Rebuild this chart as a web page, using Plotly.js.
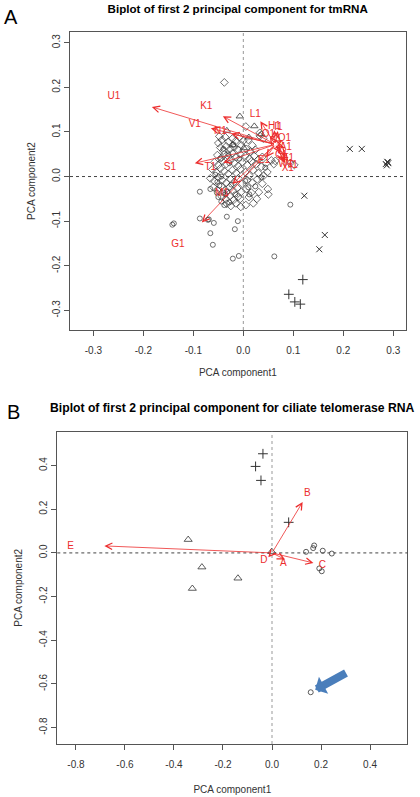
<!DOCTYPE html>
<html>
<head>
<meta charset="utf-8">
<script src="https://cdn.plot.ly/plotly-3.0.1.min.js"></script>
<style>html,body{margin:0;padding:0;background:#fff;}#chart{width:420px;height:797px;}</style>
</head>
<body>
<div id="chart"></div>
<script>
// ---------------- Panel A: tmRNA ----------------
const titleA = 'Biplot of first 2 principal component for tmRNA';
const circlesAX = [-0.087,-0.066,-0.053,-0.142,-0.139,-0.087,-0.071,-0.069,-0.059,-0.033,-0.011,-0.017,-0.066,-0.061,-0.009,-0.021,0.062,0.094,
  -0.052,-0.048,-0.056,-0.044,-0.040,-0.036,-0.032,-0.046,-0.040,-0.030,-0.024,-0.016,0.004,0.010,0.036,0.044,0.024,-0.008,-0.020,-0.028,-0.050,-0.044,-0.038,-0.028,0.012];
const circlesAY = [-0.034,-0.028,-0.036,-0.108,-0.105,-0.094,-0.097,-0.096,-0.104,-0.090,-0.100,-0.118,-0.127,-0.153,-0.178,-0.184,-0.179,-0.063,
  -0.012,-0.020,0.004,0.000,-0.036,-0.040,-0.034,0.040,0.062,0.050,-0.018,-0.040,-0.010,-0.024,-0.002,0.020,-0.022,0.040,0.072,0.030,-0.046,-0.056,-0.064,-0.058,-0.040];
const diamondsAX = [-0.038,0.005,0.033,0.033,0.040,
  -0.048,-0.043,-0.050,-0.036,-0.030,-0.022,-0.015,-0.008,0.000,0.010,0.018,
  -0.046,-0.040,-0.034,-0.026,-0.018,-0.010,-0.004,0.006,0.014,0.024,
  -0.052,-0.044,-0.038,-0.030,-0.022,-0.014,-0.006,0.004,0.012,0.022,0.030,0.038,
  -0.058,-0.050,-0.042,-0.034,-0.026,-0.018,-0.010,-0.002,0.008,0.016,0.026,0.036,0.046,0.056,0.064,0.061,0.102,0.094,
  -0.062,-0.054,-0.046,-0.038,-0.030,-0.022,-0.014,-0.006,0.004,0.012,0.020,0.030,0.041,0.048,
  -0.066,-0.058,-0.050,-0.042,-0.034,-0.026,-0.018,-0.010,-0.002,0.008,0.018,0.028,0.038,
  -0.060,-0.052,-0.044,-0.036,-0.028,-0.020,-0.012,-0.004,0.006,0.016,0.031,0.049,
  -0.043,-0.035,-0.027,-0.019,-0.011,-0.006,0.011,0.027,0.050,
  -0.033,-0.025,-0.015,-0.005,0.005,0.020];
const diamondsAY = [0.211,0.112,0.091,0.098,0.085,
  0.090,0.082,0.075,0.088,0.078,0.085,0.080,0.088,0.080,0.082,0.070,
  0.065,0.058,0.068,0.062,0.066,0.060,0.070,0.062,0.056,0.060,
  0.048,0.042,0.050,0.045,0.052,0.044,0.050,0.046,0.040,0.046,0.038,0.044,
  0.032,0.026,0.034,0.028,0.036,0.030,0.024,0.032,0.026,0.034,0.028,0.022,0.030,0.036,0.035,0.028,0.026,0.030,
  0.016,0.010,0.018,0.012,0.006,0.014,0.008,0.016,0.010,0.002,0.014,0.008,0.002,0.010,
  -0.004,-0.010,-0.002,-0.008,-0.014,-0.006,-0.012,-0.004,-0.016,-0.008,-0.014,-0.006,-0.016,
  -0.024,-0.030,-0.022,-0.030,-0.024,-0.032,-0.026,-0.034,-0.028,-0.036,-0.035,-0.028,
  -0.045,-0.050,-0.044,-0.052,-0.046,-0.050,-0.046,-0.050,-0.040,
  -0.061,-0.066,-0.060,-0.068,-0.064,-0.060];
const trianglesAX = [-0.007,0.022,-0.033,0.036,0.011,0.001,-0.021];
const trianglesAY = [0.135,0.113,0.103,0.095,0.088,0.064,0.070];
const crossesXAX = [0.213,0.237,0.285,0.288,0.290,0.287,0.289,0.122,0.163,0.152];
const crossesXAY = [0.062,0.062,0.028,0.033,0.030,0.025,0.032,-0.043,-0.131,-0.163];
const plusAX = [0.119,0.091,0.103,0.114];
const plusAY = [-0.231,-0.264,-0.281,-0.286];
const arrowOriginA = [0.064,0.072];
const varNamesA = ['U1','K1','V1','N1','L1','S1','G1','T1','M1','H1','I1','O1','Q1','A1','C1','F1','W1','X1','Y1','E1'];
const arrowTipAX = [-0.183,-0.041,-0.065,-0.024,0.034,-0.097,-0.083,-0.040,-0.022,0.062,0.069,0.053,0.078,0.081,0.074,0.085,0.081,0.084,0.090,0.046];
const arrowTipAY = [0.156,0.135,0.108,0.096,0.124,0.030,-0.103,0.031,-0.017,0.104,0.102,0.090,0.082,0.066,0.053,0.046,0.035,0.030,0.034,0.043];
const labelAX = [-0.259,-0.074,-0.097,-0.046,0.024,-0.147,-0.131,-0.066,-0.043,0.062,0.070,0.050,0.082,0.085,0.076,0.090,0.085,0.089,0.097,0.041];
const labelAY = [0.180,0.156,0.117,0.102,0.139,0.020,-0.153,0.021,-0.039,0.112,0.110,0.095,0.085,0.065,0.048,0.040,0.026,0.019,0.024,0.036];
const tickValsA = [-0.3,-0.2,-0.1,0,0.1,0.2,0.3];
const tickTextA = ['-0.3','-0.2','-0.1','0.0','0.1','0.2','0.3'];

// ---------------- Panel B: ciliate telomerase RNA ----------------
const titleB = 'Biplot of first 2 principal component for ciliate telomerase RNA';
const plusBX = [-0.037,-0.067,-0.045,0.068];
const plusBY = [0.454,0.396,0.332,0.140];
const trianglesBX = [-0.342,-0.286,-0.139,-0.325,-0.001];
const trianglesBY = [0.061,-0.065,-0.116,-0.163,0.006];
const circlesBX = [0.139,0.168,0.172,0.207,0.244,0.193,0.203,0.158];
const circlesBY = [0.005,0.022,0.034,0.010,-0.003,-0.071,-0.084,-0.638];
const arrowOriginB = [0,0];
const varNamesB = ['E','B','C','A','D'];
const arrowTipBX = [-0.684,0.125,0.169,0.053,-0.015];
const arrowTipBY = [0.032,0.233,-0.046,-0.030,-0.020];
const labelBX = [-0.822,0.144,0.205,0.046,-0.033];
const labelBY = [0.030,0.274,-0.059,-0.048,-0.033];
const highlightPointB = [0.158,-0.638];
const tickValsB = [-0.8,-0.6,-0.4,-0.2,0,0.2,0.4];
const tickTextB = ['-0.8','-0.6','-0.4','-0.2','0.0','0.2','0.4'];

const FONT = 'Liberation Sans, Arial, sans-serif';
const RED = 'rgb(236,45,45)';
const INK = '#333';

function pts(x, y, xa, ya, symbol, size, lw) {
  return {type:'scatter', mode:'markers', x:x, y:y, xaxis:xa, yaxis:ya, hoverinfo:'skip',
    marker:{symbol:symbol, size:size, color:INK, line:{width:lw, color:INK}}};
}
function labels(x, y, t, xa, ya) {
  return {type:'scatter', mode:'text', x:x, y:y, text:t, xaxis:xa, yaxis:ya, hoverinfo:'skip',
    textposition:'middle center', textfont:{family:FONT, size:10, color:RED}};
}

const data = [
  pts(circlesAX, circlesAY, 'x', 'y', 'circle-open', 5, 0.7),
  pts(diamondsAX, diamondsAY, 'x', 'y', 'diamond-open', 6, 0.7),
  pts(trianglesAX, trianglesAY, 'x', 'y', 'triangle-up-open', 6.5, 0.8),
  pts(crossesXAX, crossesXAY, 'x', 'y', 'x-thin-open', 6, 1),
  pts(plusAX, plusAY, 'x', 'y', 'cross-thin-open', 7, 1),
  labels(labelAX, labelAY, varNamesA, 'x', 'y'),
  pts(plusBX, plusBY, 'x2', 'y2', 'cross-thin-open', 7, 1),
  pts(trianglesBX, trianglesBY, 'x2', 'y2', 'triangle-up-open', 7, 0.8),
  pts(circlesBX, circlesBY, 'x2', 'y2', 'circle-open', 5, 0.8),
  labels(labelBX, labelBY, varNamesB, 'x2', 'y2')
];

const annotations = [];
function addArrows(tx, ty, origin, xa, ya) {
  for (let i = 0; i < tx.length; i++) {
    annotations.push({x:tx[i], y:ty[i], ax:origin[0], ay:origin[1], xref:xa, yref:ya, axref:xa, ayref:ya,
      text:'', showarrow:true, arrowhead:5, arrowsize:1.6, arrowwidth:0.8, arrowcolor:RED, standoff:0, startstandoff:0});
  }
}
addArrows(arrowTipAX, arrowTipAY, arrowOriginA, 'x', 'y');
addArrows(arrowTipBX, arrowTipBY, arrowOriginB, 'x2', 'y2');

// blue call-out arrow pointing at the outlier in panel B
annotations.push({x:highlightPointB[0]+0.018, y:highlightPointB[1]+0.011, ax:highlightPointB[0]+0.150, ay:highlightPointB[1]+0.092,
  xref:'x2', yref:'y2', axref:'x2', ayref:'y2', text:'', showarrow:true, arrowhead:1, arrowsize:0.4, arrowwidth:8, arrowcolor:'#4a7ebb', standoff:0});

annotations.push({text:'A', x:11/420, y:1-17/797, xref:'paper', yref:'paper', xanchor:'center', yanchor:'middle', showarrow:false, font:{family:FONT, size:20, color:'#000'}});
annotations.push({text:'B', x:13/420, y:1-412/797, xref:'paper', yref:'paper', xanchor:'center', yanchor:'middle', showarrow:false, font:{family:FONT, size:20, color:'#000'}});
annotations.push({text:'<b>'+titleB+'</b>', x:232/420, y:1-408/797, xref:'paper', yref:'paper', xanchor:'center', yanchor:'middle', showarrow:false, font:{family:FONT, size:12.2, color:'#000'}});

function axis(domain, range, tv, tt, titleText, isY, standoff) {
  return {domain:domain, range:range, tickmode:'array', tickvals:tv, ticktext:tt,
    ticks:'outside', ticklen:5, tickwidth:1, tickcolor:'#555', showline:true, mirror:true, linecolor:'#555', linewidth:1,
    showgrid:false, zeroline:false, tickangle: isY ? -90 : 0, fixedrange:true,
    ticklabelstandoff: isY ? 0 : 6,
    tickfont:{family:FONT, size:10, color:INK},
    title:{text:titleText, font:{family:FONT, size:10, color:INK}, standoff:standoff}};
}

const shapes = [
  {type:'line', xref:'x', yref:'y domain', x0:0, x1:0, y0:0, y1:1, line:{color:'#999', width:1, dash:'dot'}},
  {type:'line', xref:'x domain', yref:'y', x0:0, x1:1, y0:0, y1:0, line:{color:'#444', width:1, dash:'dot'}},
  {type:'line', xref:'x2', yref:'y2 domain', x0:0, x1:0, y0:0, y1:1, line:{color:'#999', width:1, dash:'dot'}},
  {type:'line', xref:'x2 domain', yref:'y2', x0:0, x1:1, y0:0, y1:0, line:{color:'#444', width:1, dash:'dot'}}
];

const layout = {
  width:420, height:797, margin:{l:0, r:0, t:0, b:0}, paper_bgcolor:'#fff', plot_bgcolor:'#fff', showlegend:false,
  title:{text:'<b>'+titleA+'</b>', x:237.7/420, xanchor:'center', xref:'paper', y:1-8.5/797, yanchor:'middle', yref:'container', font:{family:FONT, size:11.6, color:'#000'}},
  xaxis: axis([70/420, 405.7/420], [-0.3467, 0.3248], tickValsA, tickTextA, 'PCA component1', false, 13),
  yaxis: axis([1-330/797, 1-32/797], [-0.344, 0.324], tickValsA, tickTextA, 'PCA component2', true, 13),
  xaxis2: axis([57.3/420, 407.3/420], [-0.876, 0.552], tickValsB, tickTextB, 'PCA component1', false, 16),
  yaxis2: axis([1-744/797, 1-431.7/797], [-0.875, 0.555], tickValsB, tickTextB, 'PCA component2', true, 13),
  annotations:annotations, shapes:shapes
};
layout.xaxis.anchor = 'y'; layout.yaxis.anchor = 'x';
layout.xaxis2.anchor = 'y2'; layout.yaxis2.anchor = 'x2';

Plotly.newPlot('chart', data, layout, {staticPlot:true, displayModeBar:false});
</script>
</body>
</html>
